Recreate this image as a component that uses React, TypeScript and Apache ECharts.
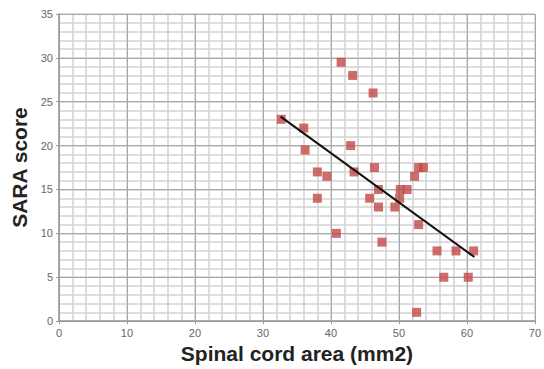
import React, { useEffect, useRef } from "react";
import * as echarts from "echarts";

const xTitle = "Spinal cord area (mm2)";
const yTitle = "SARA score";
const area = [32.7, 36, 36.2, 38, 38, 39.4, 40.8, 41.5, 43.2, 42.9, 43.4, 46.2, 45.7, 46.4, 47, 47, 47.5, 49.4, 50.1, 50.2, 51.2, 52.3, 52.9, 53.6, 52.9, 52.6, 55.6, 56.6, 58.4, 60.2, 61];
const sara = [23, 22, 19.5, 17, 14, 16.5, 10, 29.5, 28, 20, 17, 26, 14, 17.5, 15, 13, 9, 13, 14, 15, 15, 16.5, 17.5, 17.5, 11, 1, 8, 5, 8, 5, 8];
const fitX = [32.6, 61.1];
const fitY = [23.3, 7.3];

export default function App() {
  const ref = useRef<HTMLDivElement>(null);
  useEffect(() => {
    const chart = echarts.init(ref.current!, null, { renderer: "svg" });
    const font = "'Liberation Sans', Arial, sans-serif";
    const minor = { show: true, lineStyle: { color: "#d2d2d2", width: 1.5 } };
    const major = { show: true, lineStyle: { color: "#a8a8a8", width: 1 } };
    const axisLine = { show: true, lineStyle: { color: "#999", width: 1.5 } };
    const hidden = {
      type: "value",
      axisLine: { show: false },
      axisTick: { show: false },
      axisLabel: { show: false },
      splitLine: minor,
      z: 0,
    };
    chart.setOption({
      animation: false,
      backgroundColor: "#fff",
      grid: { left: 59, right: 6, top: 14, bottom: 46.5, containLabel: false },
      xAxis: [
        {
          type: "value",
          min: 0,
          max: 70,
          interval: 10,
          name: xTitle,
          nameLocation: "middle",
          nameGap: 21,
          nameTextStyle: { fontFamily: font, fontSize: 21, fontWeight: "bold", color: "#222", verticalAlign: "top" },
          axisLine,
          axisTick: { show: true, length: 3, lineStyle: { color: "#999" } },
          axisLabel: { fontFamily: font, fontSize: 11, color: "#666", margin: 6 },
          splitLine: major,
          z: 2,
        },
        { ...hidden, min: 0, max: 70, interval: 2, position: "bottom" },
      ],
      yAxis: [
        {
          type: "value",
          min: 0,
          max: 35,
          interval: 5,
          name: yTitle,
          nameLocation: "middle",
          nameGap: 29,
          nameRotate: 90,
          nameTextStyle: { fontFamily: font, fontSize: 21, fontWeight: "bold", color: "#222" },
          axisLine,
          axisTick: { show: true, length: 3, lineStyle: { color: "#999" } },
          axisLabel: { fontFamily: font, fontSize: 11, color: "#666", margin: 6 },
          splitLine: major,
          z: 2,
        },
        { ...hidden, min: 0, max: 35, interval: 1, position: "left" },
      ],
      series: [
        {
          type: "scatter",
          symbol: "rect",
          symbolSize: 9,
          itemStyle: { color: "#c24a47" },
          data: area.map((x, i) => [x, sara[i]]),
          z: 3,
        },
        {
          type: "line",
          symbol: "none",
          lineStyle: { color: "#111", width: 2 },
          data: fitX.map((x, i) => [x, fitY[i]]),
          z: 4,
        },
      ],
    });
    return () => chart.dispose();
  }, []);
  return <div ref={ref} style={{ width: 544, height: 369, position: "fixed", left: 0, top: 0 }} />;
}
